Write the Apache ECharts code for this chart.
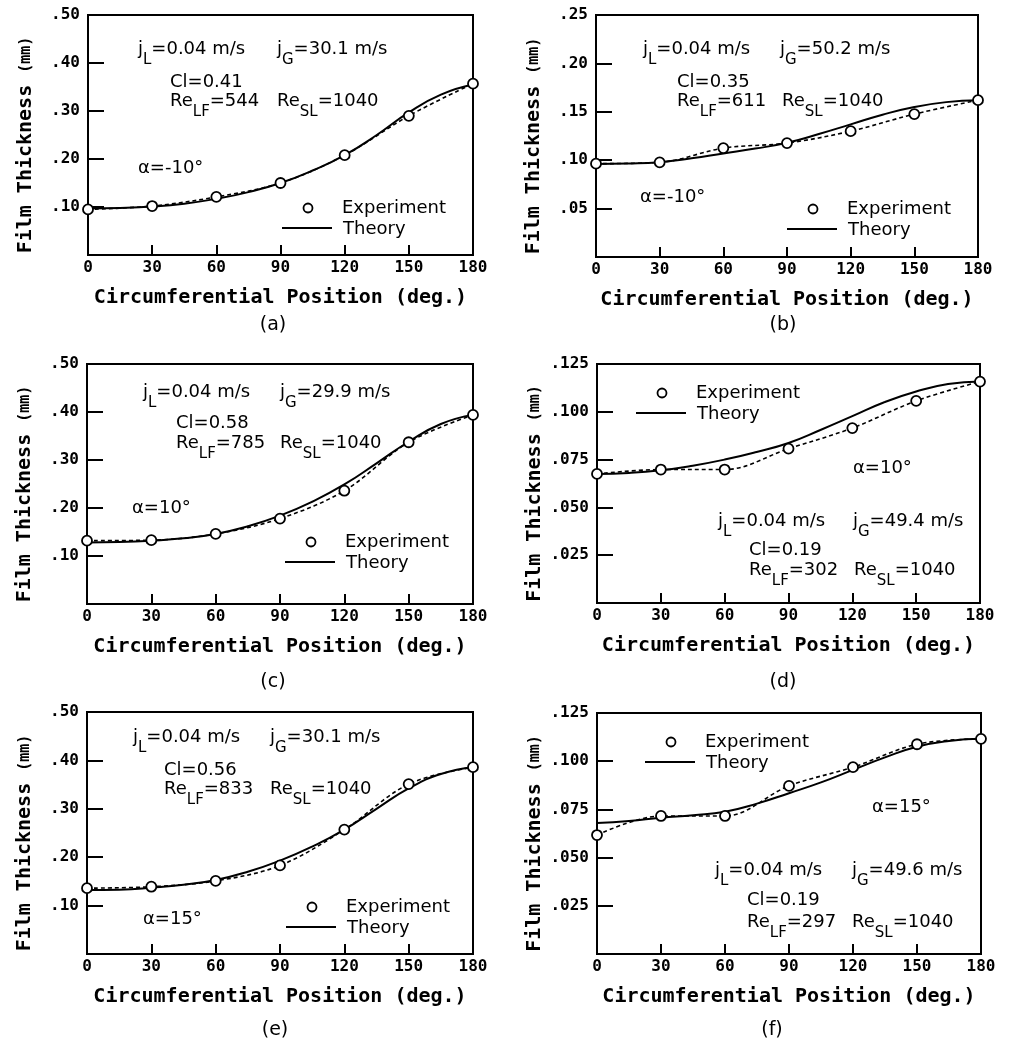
<!DOCTYPE html>
<html>
<head>
<meta charset="utf-8">
<script src="https://cdn.jsdelivr.net/npm/echarts@6/dist/echarts.min.js"></script>
<style>
  html, body { margin: 0; padding: 0; background: #fff; }
  #chart { width: 1011px; height: 1046px; }
</style>
</head>
<body>
<div id="chart"></div>
<script>
// circumferential positions (deg.)
var expDeg = [0, 30, 60, 90, 120, 150, 180];
var theoryDeg = [0, 15, 30, 45, 60, 75, 90, 105, 120, 135, 150, 165, 180];

// film thickness (mm)
var expA = [0.095, 0.102, 0.121, 0.150, 0.208, 0.290, 0.357];
var theoryA = [0.097, 0.098, 0.101, 0.107, 0.117, 0.131, 0.150, 0.176, 0.208, 0.250, 0.297, 0.334, 0.355];
var expB = [0.0964, 0.0978, 0.1125, 0.1177, 0.130, 0.1476, 0.162];
var theoryB = [0.096, 0.0965, 0.098, 0.102, 0.107, 0.112, 0.118, 0.127, 0.137, 0.147, 0.155, 0.160, 0.162];
var expC = [0.132, 0.133, 0.146, 0.178, 0.236, 0.337, 0.394];
var theoryC = [0.128, 0.129, 0.132, 0.137, 0.146, 0.162, 0.184, 0.213, 0.249, 0.293, 0.338, 0.375, 0.394];
var expD = [0.0675, 0.0698, 0.0698, 0.0807, 0.0915, 0.1057, 0.1158];
var theoryD = [0.0675, 0.068, 0.0694, 0.0718, 0.0750, 0.0790, 0.0837, 0.0905, 0.0977, 0.1050, 0.1106, 0.1145, 0.1158];
var expE = [0.136, 0.139, 0.151, 0.183, 0.257, 0.351, 0.386];
var theoryE = [0.132, 0.133, 0.137, 0.143, 0.153, 0.170, 0.193, 0.222, 0.257, 0.300, 0.342, 0.372, 0.386];
var expF = [0.0617, 0.0716, 0.0716, 0.0872, 0.0969, 0.1088, 0.1116];
var theoryF = [0.068, 0.069, 0.0707, 0.072, 0.0738, 0.078, 0.0834, 0.089, 0.0955, 0.102, 0.1075, 0.1105, 0.1116];

// axis ranges: [max, step, decimals]
var yAxisWide = [0.5, 0.1, 2];
var yAxisMid = [0.25, 0.05, 2];
var yAxisNarrow = [0.125, 0.025, 3];

// conditions printed in each panel
var captions = ['(a)', '(b)', '(c)', '(d)', '(e)', '(f)'];
var jGValues = ['30.1', '50.2', '29.9', '49.4', '30.1', '49.6'];
var clValues = ['0.41', '0.35', '0.58', '0.19', '0.56', '0.19'];
var reLFValues = ['544', '611', '785', '302', '833', '297'];
var alphaValues = ['-10', '-10', '10', '10', '15', '15'];

var expSets = [expA, expB, expC, expD, expE, expF];
var theorySets = [theoryA, theoryB, theoryC, theoryD, theoryE, theoryF];
var yRanges = [yAxisWide, yAxisMid, yAxisWide, yAxisNarrow, yAxisWide, yAxisNarrow];

// layout of each panel (pixels)
var layout = [
  { grid: [88, 15, 385, 240], cap: [273, 325], j: [138, 50, 277], cl: [170, 82], re: [170, 102, 277], alpha: [138, 168], leg: [308, 208] },
  { grid: [596, 15, 382, 242], cap: [783, 325], j: [643, 50, 780], cl: [677, 82], re: [677, 102, 782], alpha: [640, 197], leg: [813, 209] },
  { grid: [87, 364, 386, 240], cap: [273, 682], j: [143, 393, 280], cl: [176, 423], re: [176, 444, 280], alpha: [132, 508], leg: [311, 542] },
  { grid: [597, 364, 383, 239], cap: [783, 682], j: [718, 522, 853], cl: [749, 550], re: [749, 571, 854], alpha: [853, 468], leg: [662, 393] },
  { grid: [87, 712, 386, 242], cap: [275, 1030], j: [133, 738, 270], cl: [164, 770], re: [164, 790, 270], alpha: [143, 919], leg: [312, 907] },
  { grid: [597, 713, 384, 241], cap: [772, 1030], j: [715, 871, 852], cl: [747, 900], re: [747, 923, 852], alpha: [872, 807], leg: [671, 742] }
];

var monoFont = '"DejaVu Sans Mono", monospace';
var sansFont = '"DejaVu Sans", sans-serif';
var ink = '#000';

var richStyle = {
  m: { fontSize: 18, fontFamily: sansFont, lineHeight: 20, verticalAlign: 'top', fill: ink },
  s: { fontSize: 15, fontFamily: sansFont, lineHeight: 40, fill: ink }
};

function pairs(xs, ys) {
  return xs.map(function (x, i) { return [x, ys[i]]; });
}

function note(x, y, text) {
  // y is the centre of the main text line
  return {
    type: 'text', x: x, y: y - 10, silent: true,
    style: { text: text, rich: richStyle, align: 'left', verticalAlign: 'top' }
  };
}

function plainText(x, y, text, font, size, align) {
  return {
    type: 'text', x: x, y: y, silent: true,
    style: { text: text, fontFamily: font, fontSize: size, fill: ink, align: align || 'left', verticalAlign: 'middle' }
  };
}

var grids = [], xAxes = [], yAxes = [], series = [], graphics = [];

layout.forEach(function (L, i) {
  var yr = yRanges[i];
  grids.push({
    left: L.grid[0], top: L.grid[1], width: L.grid[2], height: L.grid[3],
    show: true, borderColor: ink, borderWidth: 2, backgroundColor: 'transparent'
  });
  xAxes.push({
    type: 'value', gridIndex: i, min: 0, max: 180, interval: 30,
    name: 'Circumferential Position (deg.)', nameLocation: 'middle', nameGap: 33,
    nameTextStyle: { fontFamily: monoFont, fontSize: 20, fontWeight: 'bold', color: ink },
    axisLine: { show: true, lineStyle: { color: ink, width: 2 } },
    axisTick: { show: true, inside: true, length: 10, lineStyle: { color: ink, width: 2 } },
    axisLabel: { margin: 5, fontFamily: monoFont, fontSize: 16, fontWeight: 'bold', color: ink },
    splitLine: { show: false }
  });
  yAxes.push({
    type: 'value', gridIndex: i, min: 0, max: yr[0], interval: yr[1],
    name: '{t|Film Thickness} {u|(mm)}', nameLocation: 'middle', nameGap: 52,
    nameTextStyle: {
      fontFamily: monoFont, fontSize: 20, fontWeight: 'bold', color: ink,
      padding: [0, 20, 0, 0],
      rich: {
        t: { fontFamily: monoFont, fontSize: 20, fontWeight: 'bold', color: ink },
        u: { fontFamily: monoFont, fontSize: 15, fontWeight: 'bold', color: ink }
      }
    },
    axisLine: { show: true, lineStyle: { color: ink, width: 2 } },
    axisTick: { show: true, inside: true, length: 16, lineStyle: { color: ink, width: 2 } },
    axisLabel: {
      margin: 8, fontFamily: monoFont, fontSize: 16, fontWeight: 'bold', color: ink,
      formatter: function (v) { return v === 0 ? '' : v.toFixed(yr[2]).replace(/^0/, ''); }
    },
    splitLine: { show: false }
  });

  series.push({
    type: 'line', xAxisIndex: i, yAxisIndex: i, data: pairs(expDeg, expSets[i]),
    smooth: 0.35, symbol: 'none', silent: true, z: 2,
    lineStyle: { color: ink, width: 1.6, type: [4, 3] }
  });
  series.push({
    type: 'line', xAxisIndex: i, yAxisIndex: i, data: pairs(theoryDeg, theorySets[i]),
    smooth: true, symbol: 'none', silent: true, z: 3,
    lineStyle: { color: ink, width: 2 }
  });
  series.push({
    type: 'scatter', xAxisIndex: i, yAxisIndex: i, data: pairs(expDeg, expSets[i]),
    symbol: 'circle', symbolSize: 10, clip: false, silent: true, z: 4,
    itemStyle: { color: '#fff', borderColor: ink, borderWidth: 1.8, opacity: 1 }
  });

  // annotations
  graphics.push(note(L.j[0], L.j[1], '{m|j}{s|L}{m|=0.04 m/s}'));
  graphics.push(note(L.j[2], L.j[1], '{m|j}{s|G}{m|=' + jGValues[i] + ' m/s}'));
  graphics.push(plainText(L.cl[0], L.cl[1], 'Cl=' + clValues[i], sansFont, 18));
  graphics.push(note(L.re[0], L.re[1], '{m|Re}{s|LF}{m|=' + reLFValues[i] + '}'));
  graphics.push(note(L.re[2], L.re[1], '{m|Re}{s|SL}{m|=1040}'));
  graphics.push(plainText(L.alpha[0], L.alpha[1], '\u03b1=' + alphaValues[i] + '\u00b0', sansFont, 18));

  // legend
  var lx = L.leg[0], ly = L.leg[1];
  graphics.push({
    type: 'circle', silent: true, shape: { cx: lx, cy: ly, r: 4.5 },
    style: { fill: '#fff', stroke: ink, lineWidth: 1.8 }
  });
  graphics.push(plainText(lx + 34, ly, 'Experiment', sansFont, 18));
  graphics.push({
    type: 'line', silent: true, shape: { x1: lx - 26, y1: ly + 20, x2: lx + 24, y2: ly + 20 },
    style: { stroke: ink, lineWidth: 2 }
  });
  graphics.push(plainText(lx + 35, ly + 21, 'Theory', sansFont, 18));

  graphics.push(plainText(L.cap[0], L.cap[1], captions[i], sansFont, 19, 'center'));
});

var chart = echarts.init(document.getElementById('chart'), null, { renderer: 'canvas' });
chart.setOption({
  animation: false,
  backgroundColor: '#fff',
  grid: grids,
  xAxis: xAxes,
  yAxis: yAxes,
  series: series,
  graphic: { elements: graphics }
});
</script>
</body>
</html>
